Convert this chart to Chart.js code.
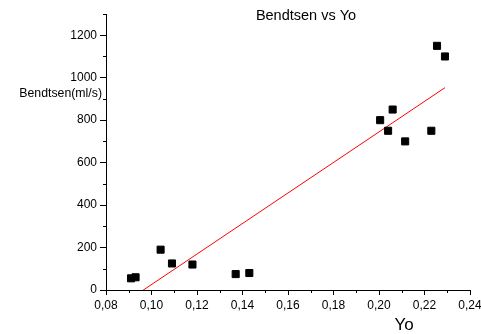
<!DOCTYPE html>
<html>
<head>
<meta charset="utf-8">
<script src="https://cdn.jsdelivr.net/npm/chart.js@4/dist/chart.umd.min.js"></script>
<style>
html,body{margin:0;padding:0;background:#fff;}
#wrap{width:481px;height:334px;position:relative;}
</style>
</head>
<body>
<div id="wrap"><canvas id="c" width="481" height="334"></canvas></div>
<script>
// Data
const yoValues = [0.091, 0.093, 0.104, 0.109, 0.118, 0.137, 0.143, 0.2005, 0.204, 0.206, 0.2115, 0.223, 0.2255, 0.229];
const bendtsenValues = [55, 60, 190, 125, 120, 75, 80, 800, 750, 850, 700, 750, 1150, 1100];
const fitX = [0.091, 0.229];
const fitY = [-39, 953];
const xTicks = [0.08, 0.10, 0.12, 0.14, 0.16, 0.18, 0.20, 0.22, 0.24];
const xMinorTicks = [0.09, 0.11, 0.13, 0.15, 0.17, 0.19, 0.21, 0.23];
const yTicks = [0, 200, 400, 600, 800, 1000, 1200];
const yMinorTicks = [100, 300, 500, 700, 900, 1100, 1300];
const titleText = 'Bendtsen vs Yo';
const xTitle = 'Yo';
const yTitle = 'Bendtsen(ml/s)';

const FONT = '"Liberation Sans", Arial, sans-serif';

const scatterData = yoValues.map((x, i) => ({x: x, y: bendtsenValues[i]}));
const lineData = fitX.map((x, i) => ({x: x, y: fitY[i]}));

const extras = {
  id: 'extras',
  afterDraw(chart) {
    const ctx = chart.ctx;
    const xs = chart.scales.x, ys = chart.scales.y;
    const ca = chart.chartArea;
    ctx.save();
    ctx.strokeStyle = '#000';
    ctx.lineWidth = 1;
    ctx.beginPath();
    yMinorTicks.forEach(v => {
      const p = Math.round(ys.getPixelForValue(v)) + 0.5;
      ctx.moveTo(ca.left - 3, p);
      ctx.lineTo(ca.left, p);
    });
    xMinorTicks.forEach(v => {
      const p = Math.round(xs.getPixelForValue(v)) + 0.5;
      ctx.moveTo(p, ca.bottom);
      ctx.lineTo(p, ca.bottom + 3);
    });
    ctx.stroke();
    ctx.fillStyle = '#000';
    ctx.textAlign = 'center';
    ctx.textBaseline = 'middle';
    ctx.font = '14.5px ' + FONT;
    ctx.fillText(titleText, 306, 16);
    ctx.font = '17px ' + FONT;
    ctx.fillText(xTitle, 404, 325);
    ctx.font = '12.3px ' + FONT;
    ctx.textAlign = 'right';
    ctx.fillText(yTitle, 102, 94);
    ctx.restore();
  }
};

new Chart(document.getElementById('c'), {
  type: 'scatter',
  data: {
    datasets: [
      {
        type: 'scatter',
        data: scatterData,
        pointStyle: 'rect',
        pointRadius: 5,
        pointHoverRadius: 5,
        backgroundColor: '#000',
        borderColor: '#000',
        borderWidth: 1,
        order: 1
      },
      {
        type: 'line',
        data: lineData,
        borderColor: '#ff0000',
        borderWidth: 1,
        pointRadius: 0,
        fill: false,
        tension: 0,
        order: 2
      }
    ]
  },
  options: {
    responsive: false,
    animation: false,
    events: [],
    layout: {padding: {top: 14, right: 11, left: 0, bottom: 0}},
    plugins: {legend: {display: false}, title: {display: false}, tooltip: {enabled: false}},
    scales: {
      x: {
        type: 'linear',
        min: 0.08,
        max: 0.24,
        afterBuildTicks: s => { s.ticks = xTicks.map(v => ({value: v})); },
        afterFit: s => { s.height = 44; s.paddingLeft = 0; s.paddingRight = 0; },
        grid: {drawOnChartArea: false, drawTicks: true, tickLength: 5, color: '#000', lineWidth: 1},
        border: {display: true, color: '#000', width: 1},
        ticks: {
          color: '#000',
          padding: 3,
          maxRotation: 0,
          autoSkip: false,
          font: {family: FONT, size: 12},
          callback: v => Number(v).toFixed(2).replace('.', ',')
        }
      },
      y: {
        type: 'linear',
        min: 0,
        max: 1300,
        afterBuildTicks: s => { s.ticks = yTicks.map(v => ({value: v})); },
        afterFit: s => { s.width = 106; s.paddingTop = 0; s.paddingBottom = 0; },
        grid: {drawOnChartArea: false, drawTicks: true, tickLength: 6, color: '#000', lineWidth: 1},
        border: {display: true, color: '#000', width: 1},
        ticks: {
          color: '#000',
          padding: 3,
          autoSkip: false,
          font: {family: FONT, size: 12},
          callback: v => String(v)
        }
      }
    }
  },
  plugins: [extras]
});
</script>
</body>
</html>
